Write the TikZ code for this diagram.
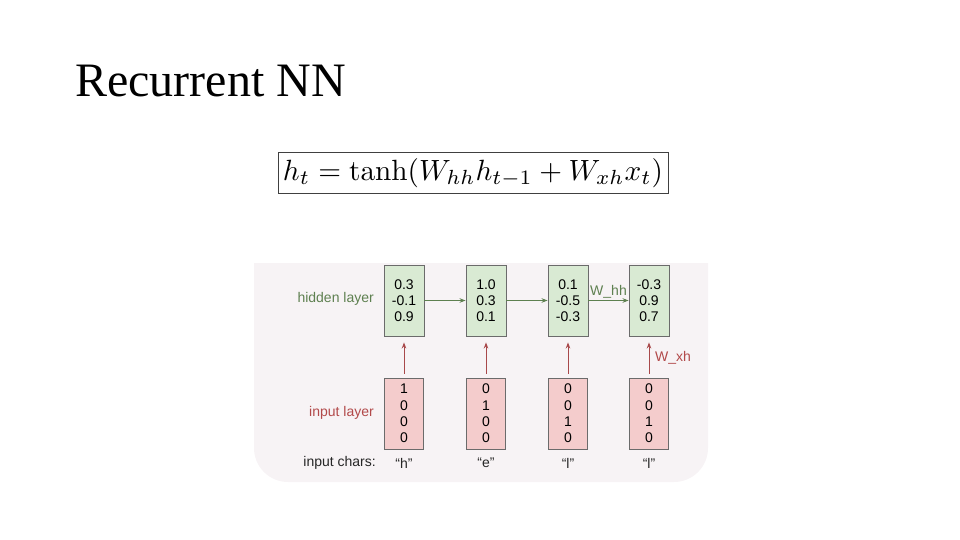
\documentclass[tikz,border=0pt]{standalone}
\usepackage[no-math]{fontspec}
\setmainfont{Liberation Sans}
\newfontfamily\titlefont{Liberation Serif}
\usetikzlibrary{arrows.meta}
\definecolor{bgpink}{HTML}{F7F3F5}
\definecolor{hidfill}{HTML}{D9EAD3}
\definecolor{infill}{HTML}{F4CCCC}
\definecolor{boxline}{HTML}{6B6B6B}
\definecolor{grn}{HTML}{5E8050}
\definecolor{redl}{HTML}{B2494A}
\definecolor{reda}{HTML}{A8484A}
\tikzset{
  hid/.style={draw=boxline, line width=0.9pt, fill=hidfill, minimum width=40pt, minimum height=71pt, inner sep=0pt, font=\fontsize{14}{15.8}\selectfont, align=center},
  inp/.style={draw=boxline, line width=0.9pt, fill=infill, minimum width=39pt, minimum height=71pt, inner sep=0pt, font=\fontsize{14}{16.4}\selectfont, align=center},
  lbl/.style={font=\fontsize{14}{16}\selectfont, inner sep=0pt},
  harrow/.style={draw=grn, line width=1pt, -{Stealth[length=6pt,width=4.5pt]}},
  varrow/.style={draw=reda, line width=1pt, -{Stealth[length=6pt,width=4.5pt]}},
}
\begin{document}
\begin{tikzpicture}[x=1pt,y=-1pt]
\useasboundingbox (0,0) rectangle (960,540);
% title
\node[anchor=base west, inner sep=0pt, font=\titlefont\fontsize{48}{52}\selectfont] (title) at (75,97) {Recurrent NN};
% formula
\node[draw=black!75, line width=0.9pt, minimum width=390pt, minimum height=41pt, inner sep=0pt] (fbox) at (473,172.5) {};
\node (formula) at (473,173) {\resizebox{380pt}{!}{$h_t = \tanh(W_{hh}h_{t-1} + W_{xh}x_t)$}};
% background
\fill[bgpink] (254,263) -- (708,263) -- (708,448) arc[start angle=0,end angle=90,radius=34] -- (288,482) arc[start angle=90,end angle=180,radius=34] -- cycle;
% hidden boxes
\node[hid] (h1) at (404,300.5) {0.3\\-0.1\\0.9};
\node[hid] (h2) at (486,300.5) {1.0\\0.3\\0.1};
\node[hid] (h3) at (568,300.5) {0.1\\-0.5\\-0.3};
\node[hid] (h4) at (649,300.5) {-0.3\\0.9\\0.7};
% input boxes
\node[inp] (i1) at (404,413.5) {1\\0\\0\\0};
\node[inp] (i2) at (486,413.5) {0\\1\\0\\0};
\node[inp] (i3) at (568,413.5) {0\\0\\1\\0};
\node[inp] (i4) at (649,413.5) {0\\0\\1\\0};
% labels
\node[lbl, anchor=east, text=grn] (hl) at (374,299) {hidden layer};
\node[lbl, anchor=east, text=redl] (il) at (374,413) {input layer};
\node[lbl, anchor=east, text=black!85] (ic) at (376,463) {input chars:};
\node[lbl, text=black!85] (c1) at (404,463) {“h”};
\node[lbl, text=black!85] (c2) at (486,463) {“e”};
\node[lbl, text=black!85] (c3) at (568,463) {“l”};
\node[lbl, text=black!85] (c4) at (649,463) {“l”};
% arrows
\draw[harrow] (h1.east) -- (h2.west);
\draw[harrow] (h2.east) -- (h3.west);
\draw[harrow] (h3.east) -- (h4.west) node[pos=0.5, above=2pt, text=grn, lbl] (whh) {W\_hh};
\draw[varrow, shorten <=4pt, shorten >=6pt] (i1.north) -- (h1.south);
\draw[varrow, shorten <=4pt, shorten >=6pt] (i2.north) -- (h2.south);
\draw[varrow, shorten <=4pt, shorten >=6pt] (i3.north) -- (h3.south);
\draw[varrow, shorten <=4pt, shorten >=6pt] (i4.north) -- (h4.south);
\node[lbl, anchor=west, text=redl] (wxh) at (655,358) {W\_xh};
\end{tikzpicture}
\end{document}
